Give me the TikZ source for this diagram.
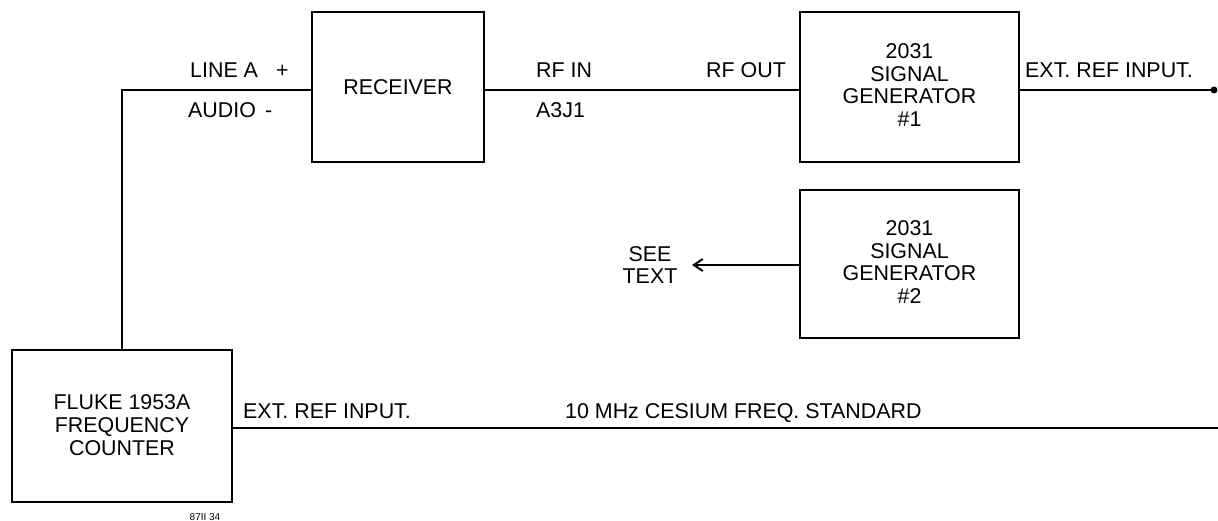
\documentclass[tikz,border=0pt]{standalone}
\usepackage{fontspec}
\setmainfont{Liberation Sans}
\usetikzlibrary{arrows.meta}
\begin{document}
\begin{tikzpicture}[x=1pt,y=-1pt,
  blk/.style={draw,line width=1.2pt,inner sep=0pt},
  wire/.style={line width=2pt},
  lbl/.style={inner sep=0pt,font=\fontsize{21.4}{22.7}\selectfont},
  ctr/.style={lbl,align=center}]
\useasboundingbox (0,0) rectangle (1218,521);
% boxes
\node[blk,minimum width=172pt,minimum height=150pt] (rx) at (398,87) {};
\node[ctr] at (rx.center) {RECEIVER};
\node[blk,minimum width=219pt,minimum height=150pt] (sg1) at (909.5,87) {};
\node[ctr] at (909.5,85) {2031\\SIGNAL\\GENERATOR\\\#1};
\node[blk,minimum width=219pt,minimum height=148pt] (sg2) at (909.5,264) {};
\node[ctr] at (909.5,262) {2031\\SIGNAL\\GENERATOR\\\#2};
\node[blk,minimum width=220pt,minimum height=152pt] (fc) at (122,426) {};
\node[ctr] at (122,425) {FLUKE 1953A\\FREQUENCY\\COUNTER};
% coordinates
\coordinate (c1) at (122,90);
\coordinate (rxl) at (312,90);
\coordinate (rxr) at (484,90);
\coordinate (sg1l) at (800,90);
\coordinate (sg1r) at (1019,90);
\coordinate (endA) at (1214,90);
\coordinate (sg2l) at (800,265);
\coordinate (arr) at (692,265);
\coordinate (fcr) at (232,428);
\coordinate (endB) at (1218,428);
% wires
\draw[wire] (fc.north -| c1) -- (c1) -- (rxl);
\draw[wire] (rxr) -- (sg1l);
\draw[wire] (sg1r) -- (endA);
\fill (endA) circle (3.5pt);
\draw[wire,-{Straight Barb[length=9pt,width=12pt,line width=2pt]}] (sg2l) -- (arr);
\draw[wire] (fcr) -- (endB);
% labels
\node[lbl,anchor=base west] at (190,78) {LINE A};
\node[lbl,anchor=base west] at (276,78) {+};
\node[lbl,anchor=base west] at (188,118) {AUDIO};
\node[lbl,anchor=base west] at (265,118) {-};
\node[lbl,anchor=base west] at (536,78) {RF IN};
\node[lbl,anchor=base west] at (536,118) {A3J1};
\node[lbl,anchor=base west] at (706,78) {RF OUT};
\node[lbl,anchor=base west] at (1025,78) {EXT. REF INPUT.};
\node[ctr] at (650,265) {SEE\\TEXT};
\node[lbl,anchor=base west] at (243,418) {EXT. REF INPUT.};
\node[lbl,anchor=base west] at (565,418) {10 MHz CESIUM FREQ. STANDARD};
\node[inner sep=0pt,font=\fontsize{10}{12}\selectfont,anchor=base] at (205,520) {87II 34};
\end{tikzpicture}
\end{document}
